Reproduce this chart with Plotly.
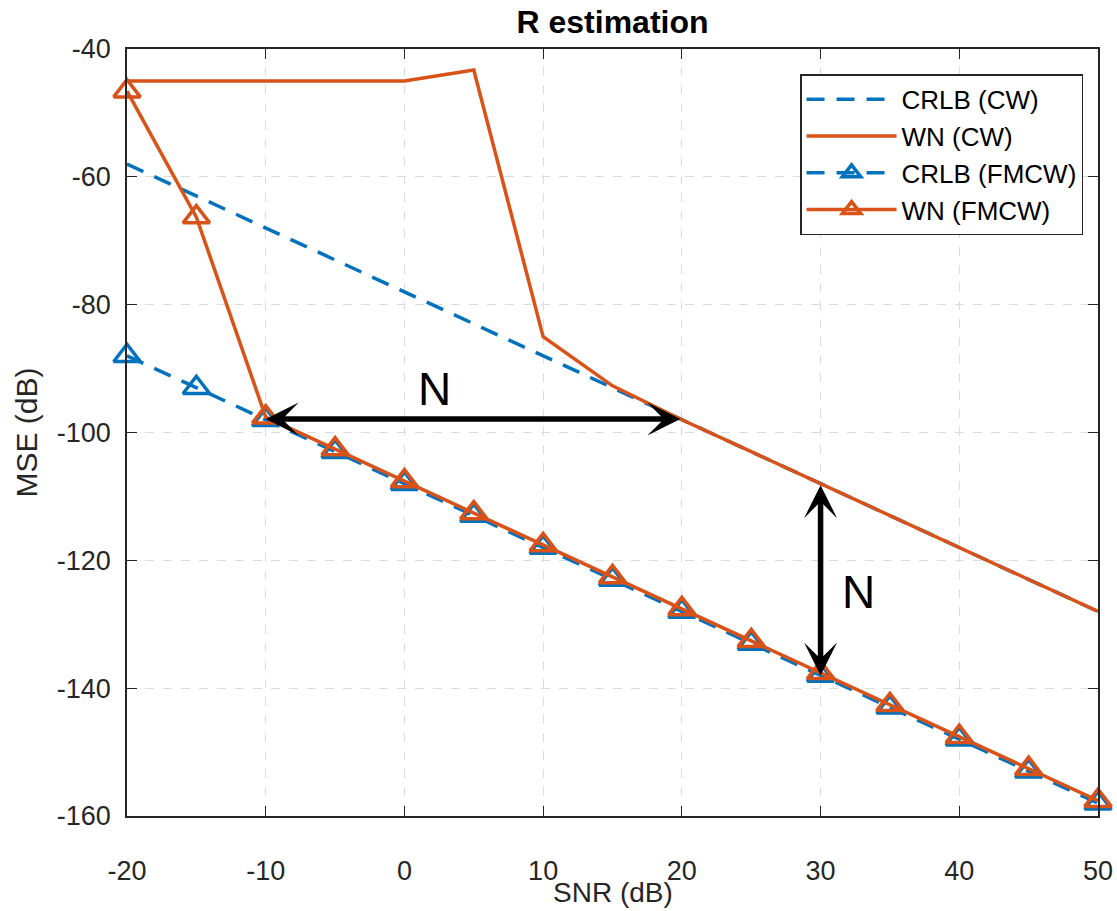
import plotly.graph_objects as go

# SNR grid (dB)
snr = [-20, -15, -10, -5, 0, 5, 10, 15, 20, 25, 30, 35, 40, 45, 50]

# MSE curves (dB)
crlb_cw = [-58, -63, -68, -73, -78, -83, -88, -93, -98, -103, -108, -113, -118, -123, -128]
wn_cw = [-45, -45, -45, -45, -45, -43.3, -85, -92.7, -98, -103, -108, -113, -118, -123, -128]
crlb_fmcw = [-88, -93, -98, -103, -108, -113, -118, -123, -128, -133, -138, -143, -148, -153, -158]
wn_fmcw = [-46.6, -66.3, -97.6, -102.6, -107.6, -112.6, -117.6, -122.6, -127.6, -132.6, -137.6, -142.6, -147.6, -152.6, -157.6]

x_ticks = [-20, -10, 0, 10, 20, 30, 40, 50]
y_ticks = [-160, -140, -120, -100, -80, -60, -40]

BLUE = "#0072BD"
ORANGE = "#D95319"
FONT = "Liberation Sans, Arial, sans-serif"
AXC = "#262626"

fig = go.Figure()
fig.add_trace(go.Scatter(x=snr, y=crlb_cw, mode="lines", name="CRLB (CW)",
                         line=dict(color=BLUE, width=3.5, dash="18px,12px")))
fig.add_trace(go.Scatter(x=snr, y=wn_cw, mode="lines", name="WN (CW)",
                         line=dict(color=ORANGE, width=3.5)))
fig.add_trace(go.Scatter(x=snr, y=crlb_fmcw, mode="lines+markers", name="CRLB (FMCW)",
                         cliponaxis=False,
                         line=dict(color=BLUE, width=3.5, dash="18px,12px"),
                         marker=dict(symbol="triangle-up-open", size=23, color=BLUE,
                                     line=dict(width=3.5, color=BLUE))))
fig.add_trace(go.Scatter(x=snr, y=wn_fmcw, mode="lines+markers", name="WN (FMCW)",
                         cliponaxis=False,
                         line=dict(color=ORANGE, width=3.5),
                         marker=dict(symbol="triangle-up-open", size=23, color=ORANGE,
                                     line=dict(width=3.5, color=ORANGE))))

# Gap annotations: horizontal and vertical double-headed arrows
arrows = [
    dict(x=-10, y=-97.9, ax=20, ay=-97.9),
    dict(x=30, y=-138, ax=30, ay=-108),
]
for a in arrows:
    fig.add_annotation(x=a["x"], y=a["y"], ax=a["ax"], ay=a["ay"],
                       xref="x", yref="y", axref="x", ayref="y",
                       showarrow=True, arrowhead=3, startarrowhead=3,
                       arrowside="end+start", arrowsize=1.0, startarrowsize=1.0,
                       arrowwidth=5.5, arrowcolor="black", text="")

fig.add_annotation(x=2.2, y=-93.2, xref="x", yref="y", text="N", showarrow=False,
                   font=dict(family=FONT, size=46, color="black"))
fig.add_annotation(x=32.7, y=-125, xref="x", yref="y", text="N", showarrow=False,
                   font=dict(family=FONT, size=46, color="black"))

# Axis titles placed in paper coordinates
fig.add_annotation(x=0.5, y=-0.100, xref="paper", yref="paper", text="SNR (dB)",
                   showarrow=False, xanchor="center", yanchor="middle",
                   font=dict(family=FONT, size=28, color=AXC))
fig.add_annotation(x=-0.104, y=0.5, xref="paper", yref="paper", text="MSE (dB)",
                   showarrow=False, xanchor="center", yanchor="middle", textangle=-90,
                   font=dict(family=FONT, size=30, color=AXC))

axis_common = dict(
    showline=True, linecolor=AXC, linewidth=1.5, mirror="ticks",
    ticks="inside", ticklen=10, tickwidth=1.3, tickcolor=AXC,
    showgrid=True, gridcolor="#dcdcdc", gridwidth=1.3, griddash="dash",
    zeroline=False, automargin=False,
    tickfont=dict(family=FONT, size=27, color=AXC),
)

fig.update_layout(
    width=1117, height=911,
    margin=dict(l=127, r=19, t=49, b=95),
    paper_bgcolor="white", plot_bgcolor="white",
    title=dict(text="<b>R estimation</b>", x=0.5, xref="paper", xanchor="center",
               y=1 - 22 / 911, yref="container", yanchor="middle",
               font=dict(family=FONT, size=32, color="black")),
    xaxis=dict(range=[-20, 50], tickvals=x_ticks, ticktext=[str(v) for v in x_ticks],
               ticklabelstandoff=30, **axis_common),
    yaxis=dict(range=[-160, -40], tickvals=y_ticks, ticktext=[str(v) for v in y_ticks],
               ticklabelstandoff=9, **axis_common),
    legend=dict(x=0.9846, y=0.967, xanchor="right", yanchor="top",
                bgcolor="white", bordercolor=AXC, borderwidth=1.5,
                font=dict(family=FONT, size=26, color="black"),
                itemwidth=90, tracegroupgap=0),
    showlegend=True,
)

fig.write_html("out.html")
